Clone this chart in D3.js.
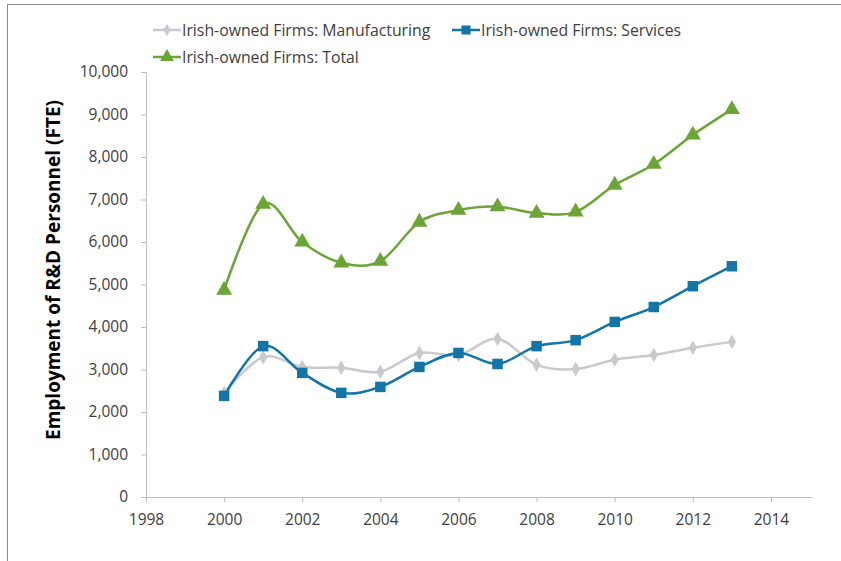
<!DOCTYPE html>
<html><head><meta charset="utf-8">
<script src="https://cdn.jsdelivr.net/npm/d3@7"></script>
<style>
body{margin:0;background:#fff;}
text{font-family:"Open Sans","Noto Sans",sans-serif;fill:#404040;}
</style></head>
<body><svg id="c" width="841" height="561"></svg>
<script>
const years = [2000,2001,2002,2003,2004,2005,2006,2007,2008,2009,2010,2011,2012,2013];
const manufacturing = [2450,3290,3060,3040,2950,3390,3340,3720,3110,3010,3230,3340,3510,3650];
const services = [2380,3550,2920,2450,2590,3060,3390,3130,3550,3690,4120,4470,4960,5430];
const total = [4870,6890,6000,5510,5550,6470,6750,6830,6680,6710,7340,7830,8520,9120];
const seriesNames = ["Irish-owned Firms: Manufacturing","Irish-owned Firms: Services","Irish-owned Firms: Total"];
const yTicks = [0,1000,2000,3000,4000,5000,6000,7000,8000,9000,10000];
const xTicks = [1998,2000,2002,2004,2006,2008,2010,2012,2014];
const yTitle = "Employment of R&D Personnel (FTE)";

const colors = ["#c9c9ce","#1175a8","#6aa535"];
const symbols = [d3.symbolDiamond, d3.symbolSquare, d3.symbolTriangle];
const symSizes = [60, 110, 110];

const svg = d3.select("#c");
// border
svg.append("path").attr("d","M7.5,561 L7.5,4.5 L841,4.5").attr("fill","none").attr("stroke","#8c8c8c").attr("stroke-width",1);

const x = d3.scaleLinear().domain([1998,2015]).range([146,810]);
const y = d3.scaleLinear().domain([0,10000]).range([497,72]);

const axisColor = "#bfbfbf";
const gy = svg.append("g").attr("transform","translate(146,0)")
  .call(d3.axisLeft(y).tickValues(yTicks).tickSize(5).tickPadding(13).tickFormat(d3.format(",")));
const gx = svg.append("g").attr("transform","translate(0,497)")
  .call(d3.axisBottom(x).tickValues(xTicks).tickSize(5).tickPadding(12).tickFormat(d3.format("d")));
[gx,gy].forEach(g=>{
  g.select(".domain").attr("stroke",axisColor);
  g.selectAll(".tick line").attr("stroke",axisColor);
  g.selectAll(".tick text").attr("fill","#404040").style("font-size","15.5px").style("font-family","'Open Sans',sans-serif");
});
gx.select(".domain").attr("d","M146,0.5H812");

svg.append("text").attr("transform","translate(60,270) rotate(-90)")
  .attr("text-anchor","middle").style("font-size","19px").style("font-weight","bold")
  .style("fill","#000").text(yTitle);

const data = [manufacturing, services, total];
const line = d3.line().x((d,i)=>x(years[i])).y(d=>y(d)).curve(d3.curveCatmullRom.alpha(0));

data.forEach((vals,k)=>{
  svg.append("path").datum(vals).attr("d",line).attr("fill","none")
    .attr("stroke",colors[k]).attr("stroke-width",2.5);
});
data.forEach((vals,k)=>{
  svg.append("g").selectAll("path").data(vals).join("path")
    .attr("transform",(d,i)=>`translate(${x(years[i])},${y(d)})`)
    .attr("d",d3.symbol(symbols[k],symSizes[k])).attr("fill",colors[k]);
});

// legend
const legendPos = [[153,30],[452,30],[153,57]];
legendPos.forEach(([lx,ly],k)=>{
  const g = svg.append("g").attr("transform",`translate(${lx},${ly})`);
  g.append("line").attr("x1",0).attr("x2",28).attr("y1",0).attr("y2",0).attr("stroke",colors[k]).attr("stroke-width",2.5);
  g.append("path").attr("transform","translate(14,0)").attr("d",d3.symbol(symbols[k],symSizes[k]*0.75)).attr("fill",colors[k]);
  g.append("text").attr("x",29).attr("y",5.5).style("font-size","15.8px").text(seriesNames[k]);
});
</script></body></html>
